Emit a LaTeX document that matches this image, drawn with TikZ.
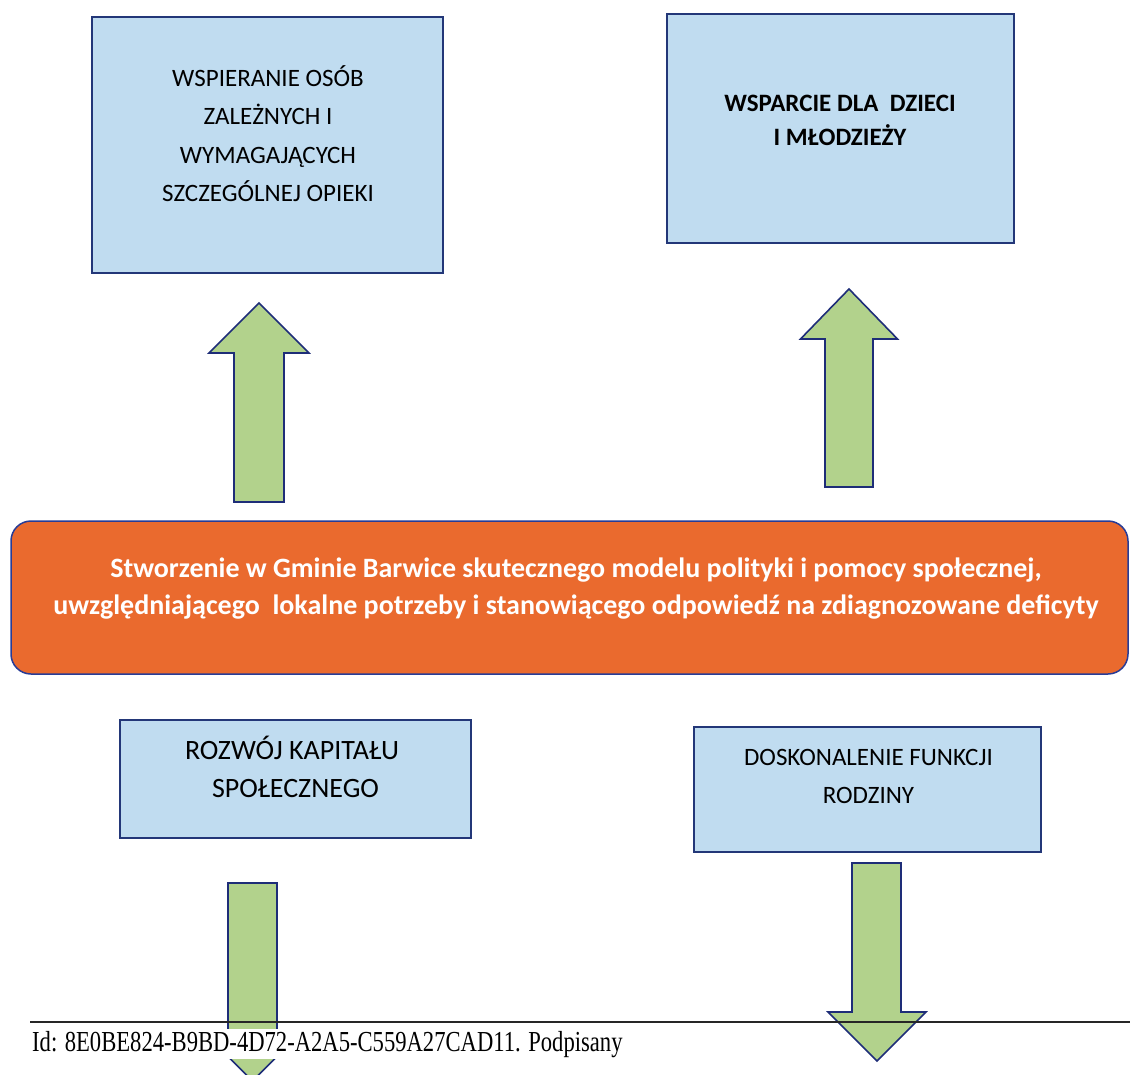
\documentclass[tikz,border=0pt]{standalone}
\usepackage{fontspec}
\setmainfont{Carlito}
\newfontfamily\footfont{Liberation Serif}
\definecolor{boxfill}{RGB}{192,220,240}
\definecolor{boxline}{RGB}{35,55,120}
\definecolor{arrfill}{RGB}{178,210,140}
\definecolor{arrline}{RGB}{30,45,120}
\definecolor{bannerfill}{RGB}{234,106,46}
\definecolor{bannerline}{RGB}{40,60,150}
\begin{document}
\begin{tikzpicture}[x=1pt,y=-1pt,
  box/.style={draw=boxline, line width=2pt, fill=boxfill, inner sep=0pt},
  boxtxt/.style={font=\fontsize{25}{30}\selectfont, anchor=base, inner sep=0pt, text=black},
  boxtxtl/.style={boxtxt, font=\fontsize{28}{30}\selectfont},
  boxtxtb/.style={boxtxt, font=\bfseries\fontsize{25}{30}\selectfont},
  bannertxt/.style={font=\bfseries\fontsize{28}{30}\selectfont, anchor=base, inner sep=0pt, text=white},
  blockarrow/.style={draw=arrline, line width=1.6pt, fill=arrfill, line join=miter}]
\useasboundingbox (0,0) rectangle (1130,1074);
\clip (0,0) rectangle (1130,1074);
\fill[white] (0,0) rectangle (1130,1074);

% top boxes
\node[box, minimum width=351pt, minimum height=256pt] (b1) at (267.5,145) {};
\node[boxtxt] (b1l1) at (268,86) {WSPIERANIE OSÓB};
\node[boxtxt] (b1l2) at (268,124) {ZALEŻNYCH I};
\node[boxtxt] (b1l3) at (268,163) {WYMAGAJĄCYCH};
\node[boxtxt] (b1l4) at (268,201) {SZCZEGÓLNEJ OPIEKI};

\node[box, minimum width=347pt, minimum height=229pt] (b2) at (840.5,128.5) {};
\node[boxtxtb] (b2l1) at (840,111) {WSPARCIE DLA~ DZIECI};
\node[boxtxtb] (b2l2) at (840,145) {I MŁODZIEŻY};

% up arrows
\draw[blockarrow] (234,502) -- (234,353) -- (209,353) -- (259,303) -- (309,353) -- (284,353) -- (284,502) -- cycle;
\draw[blockarrow] (825,487) -- (825,339) -- (800.5,339) -- (849,289) -- (897.5,339) -- (873,339) -- (873,487) -- cycle;

% banner
\node[draw=bannerline, line width=1.5pt, fill=bannerfill, rounded corners=20pt,
      minimum width=1117pt, minimum height=153pt, inner sep=0pt] (banner) at (569.5,597.5) {};
\node[bannertxt] (bn1) at (576,577) {Stworzenie w Gminie Barwice skutecznego modelu polityki i pomocy społecznej,};
\node[bannertxt] (bn2) at (576,614) {uwzględniającego~ lokalne potrzeby i stanowiącego odpowiedź na zdiagnozowane deficyty};

% lower boxes
\node[box, minimum width=351pt, minimum height=118pt] (b3) at (295.5,779) {};
\node[boxtxtl] (b3l1) at (292,759) {ROZWÓJ KAPITAŁU};
\node[boxtxtl] (b3l2) at (295.5,797) {SPOŁECZNEGO};

\node[box, minimum width=347pt, minimum height=125pt] (b4) at (867.5,789.5) {};
\node[boxtxt] (b4l1) at (868.5,765) {DOSKONALENIE FUNKCJI};
\node[boxtxt] (b4l2) at (868.5,803) {RODZINY};

% down arrows
\draw[blockarrow] (228,883) -- (228,1032) -- (203.5,1032) -- (252.5,1081) -- (301.5,1032) -- (277,1032) -- (277,883) -- cycle;
\draw[blockarrow] (852,863) -- (852,1012) -- (828,1012) -- (877,1061) -- (926,1012) -- (901,1012) -- (901,863) -- cycle;

% footer
\coordinate (fl) at (30,1022);
\coordinate (fr) at (1130,1022);
\draw[line width=1.5pt, black!85] (fl) -- (fr);
\node[anchor=base west, fill=white, inner sep=1.5pt, font=\footfont\fontsize{29}{30}\selectfont] (foot) at (30.5,1051)
  {\scalebox{0.78}[1]{Id: 8E0BE824-B9BD-4D72-A2A5-C559A27CAD11. Podpisany}};
\end{tikzpicture}
\end{document}
